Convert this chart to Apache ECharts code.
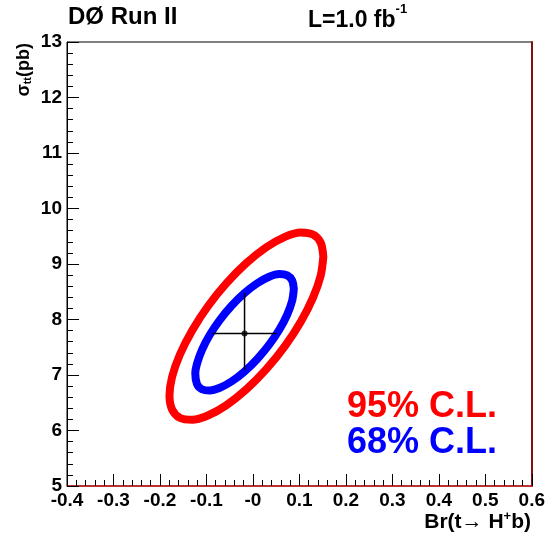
<!DOCTYPE html>
<html>
<head>
<meta charset="utf-8">
<script src="https://cdn.jsdelivr.net/npm/echarts@6/dist/echarts.min.js"></script>
<style>
html, body { margin: 0; padding: 0; background: #ffffff; }
#chart { width: 548px; height: 534px; }
</style>
</head>
<body>
<div id="chart"></div>
<script>
// Axis ranges and tick labels
const xMin = -0.4, xMax = 0.6, xStep = 0.1;
const yMin = 5, yMax = 13, yStep = 1;
const xTickLabels = ['-0.4', '-0.3', '-0.2', '-0.1', '-0', '0.1', '0.2', '0.3', '0.4', '0.5', '0.6'];
const yTickLabels = ['5', '6', '7', '8', '9', '10', '11', '12', '13'];

// 95% C.L. contour in (Br, sigma) points
const contour95 = [
  [0.1515, 9.131], [0.1459, 9.382], [0.1293, 9.531], [0.103, 9.568],
  [0.0688, 9.490], [0.0288, 9.302], [-0.014, 9.017], [-0.0568, 8.654],
  [-0.0968, 8.239], [-0.131, 7.799], [-0.1573, 7.365], [-0.1739, 6.966],
  [-0.1795, 6.629], [-0.1739, 6.378], [-0.1573, 6.229], [-0.131, 6.192],
  [-0.0968, 6.270], [-0.0568, 6.458], [-0.014, 6.743], [0.0288, 7.106],
  [0.0688, 7.521], [0.103, 7.961], [0.1293, 8.395], [0.1459, 8.794],
  [0.1515, 9.131]
];

// 68% C.L. contour
const contour68 = [
  [0.088, 8.547], [0.0844, 8.703], [0.0738, 8.796], [0.057, 8.819],
  [0.035, 8.770], [0.0094, 8.653], [-0.018, 8.476], [-0.0454, 8.251],
  [-0.071, 7.993], [-0.093, 7.720], [-0.1098, 7.450], [-0.1204, 7.202],
  [-0.124, 7.030], [-0.1204, 6.837], [-0.1098, 6.744], [-0.093, 6.721],
  [-0.071, 6.770], [-0.0454, 6.887], [-0.018, 7.064], [0.0094, 7.289],
  [0.035, 7.547], [0.057, 7.820], [0.0738, 8.090], [0.0844, 8.338],
  [0.088, 8.547]
];

// Best fit point and its one-sigma ranges
const bestFit = [-0.018, 7.75];
const bestFitBrRange = [-0.087, 0.051];
const bestFitSigmaRange = [7.09, 8.48];

const FONT = '"Liberation Sans", Arial, Helvetica, sans-serif';

const chart = echarts.init(document.getElementById('chart'), null, { renderer: 'canvas' });

const tickLabelStyle = {
  color: '#000',
  fontFamily: FONT,
  fontWeight: 'bold',
  fontSize: 19
};

chart.setOption({
  animation: false,
  backgroundColor: '#ffffff',
  grid: {
    left: 67, right: 12, top: 42, bottom: 48,
    show: true, borderColor: '#000', borderWidth: 1, backgroundColor: 'transparent'
  },
  xAxis: [{
    type: 'value',
    min: xMin, max: xMax, interval: xStep,
    axisLine: { show: true, onZero: false, lineStyle: { color: '#d01818', width: 1.5 } },
    axisTick: { show: true, inside: true, length: 12, lineStyle: { color: '#000', width: 1 } },
    minorTick: { show: true, splitNumber: 5, length: 6, lineStyle: { color: '#000', width: 1 } },
    splitLine: { show: false },
    minorSplitLine: { show: false },
    axisLabel: {
      ...tickLabelStyle,
      margin: 5,
      formatter: (v) => xTickLabels[Math.round((v - xMin) / xStep)]
    }
  }],
  yAxis: [{
    type: 'value',
    min: yMin, max: yMax, interval: yStep,
    axisLine: { show: true, onZero: false, lineStyle: { color: '#000', width: 1 } },
    axisTick: { show: true, inside: true, length: 12, lineStyle: { color: '#000', width: 1 } },
    minorTick: { show: true, splitNumber: 5, length: 6, lineStyle: { color: '#000', width: 1 } },
    splitLine: { show: false },
    minorSplitLine: { show: false },
    axisLabel: {
      ...tickLabelStyle,
      margin: 5,
      formatter: (v) => yTickLabels[Math.round((v - yMin) / yStep)]
    }
  }, {
    type: 'value',
    position: 'right',
    min: yMin, max: yMax,
    axisLine: { show: true, onZero: false, lineStyle: { color: '#7a1414', width: 2 } },
    axisTick: { show: false },
    axisLabel: { show: false },
    splitLine: { show: false }
  }],
  series: [
    {
      name: '95% C.L.',
      type: 'line',
      data: contour95,
      showSymbol: false,
      symbol: 'none',
      smooth: 0.3,
      lineStyle: { color: '#ff0000', width: 8, join: 'round', cap: 'round' },
      z: 2
    },
    {
      name: '68% C.L.',
      type: 'line',
      data: contour68,
      showSymbol: false,
      symbol: 'none',
      smooth: 0.3,
      lineStyle: { color: '#0000ff', width: 8, join: 'round', cap: 'round' },
      z: 3
    },
    {
      name: 'Br range',
      type: 'line',
      data: [[bestFitBrRange[0], bestFit[1]], [bestFitBrRange[1], bestFit[1]]],
      symbol: 'none',
      lineStyle: { color: '#000', width: 1.5 },
      z: 4
    },
    {
      name: 'sigma range',
      type: 'line',
      data: [[bestFit[0], bestFitSigmaRange[0]], [bestFit[0], bestFitSigmaRange[1]]],
      symbol: 'none',
      lineStyle: { color: '#000', width: 1.5 },
      z: 4
    },
    {
      name: 'best fit',
      type: 'scatter',
      data: [bestFit],
      symbol: 'circle',
      symbolSize: 6,
      itemStyle: { color: '#000' },
      z: 5
    }
  ],
  graphic: [
    {
      type: 'text', left: 68, top: 5,
      style: { text: 'DØ Run II', fill: '#000', font: 'bold 24px ' + FONT }
    },
    {
      type: 'text', left: 308, top: 3,
      style: {
        text: '{m|L=1.0 fb}{s|-1}',
        fill: '#000',
        rich: {
          m: { fontFamily: FONT, fontWeight: 'bold', fontSize: 23, padding: [6, 0, 0, 0] },
          s: { fontFamily: FONT, fontWeight: 'bold', fontSize: 13, verticalAlign: 'top', padding: [0, 0, 8, 0] }
        }
      }
    },
    {
      type: 'text', x: 24, y: 43, rotation: Math.PI / 2,
      style: {
        text: '{m|σ}{s|tt}{m|(pb)}',
        align: 'right', verticalAlign: 'middle',
        fill: '#000',
        rich: {
          m: { fontFamily: FONT, fontWeight: 'bold', fontSize: 18 },
          s: { fontFamily: FONT, fontWeight: 'bold', fontSize: 11, padding: [8, 0, 0, 0] }
        }
      }
    },
    {
      type: 'text', x: 531, y: 522,
      style: {
        text: '{m|Br(t→ H}{s|+}{m|b)}',
        align: 'right', verticalAlign: 'middle',
        fill: '#000',
        rich: {
          m: { fontFamily: FONT, fontWeight: 'bold', fontSize: 21 },
          s: { fontFamily: FONT, fontWeight: 'bold', fontSize: 13, padding: [0, 0, 11, 0] }
        }
      }
    },
    {
      type: 'text', x: 347, y: 407,
      style: { text: '95% C.L.', fill: '#ff0000', font: 'bold 36px ' + FONT, verticalAlign: 'middle' }
    },
    {
      type: 'text', x: 347, y: 443,
      style: { text: '68% C.L.', fill: '#0000ff', font: 'bold 36px ' + FONT, verticalAlign: 'middle' }
    }
  ]
});
</script>
</body>
</html>
